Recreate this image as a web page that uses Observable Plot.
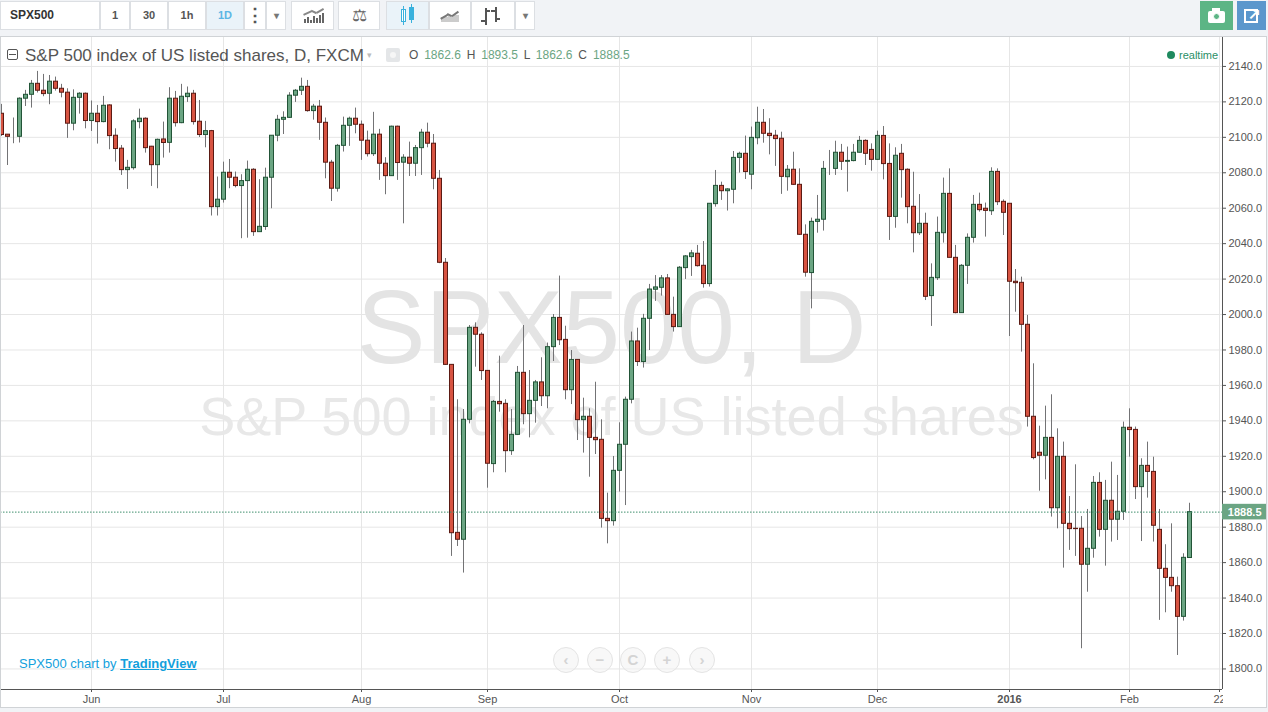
<!DOCTYPE html>
<html>
<head>
<meta charset="utf-8">
<script src="https://cdn.jsdelivr.net/npm/d3@7"></script>
<script src="https://cdn.jsdelivr.net/npm/@observablehq/plot@0.6"></script>
<style>
html,body{margin:0;padding:0;background:#f1f3f6;overflow:hidden}
#root{position:relative;width:1268px;height:712px;font-family:"Liberation Sans",Arial,sans-serif;overflow:hidden}
#bar{height:36px}
#root svg{display:block}
.a{position:absolute;white-space:nowrap}
.cell{position:absolute;top:1px;height:29px;background:#fff;border:1px solid #dcdfe3;box-sizing:border-box;text-align:center;font-size:11px;font-weight:bold;line-height:27px;color:#555}
</style>
</head>
<body>
<div id="root"><div id="bar"></div></div>
<script>
const open = [
2113.3,2101.5,2100.3,2100.3,2121.8,2124,2130.2,2126.3,2124.6,2131.4,
2127.4,2125.2,2107.7,2122.3,2124.6,2109.2,2113.3,2108.6,2118,2100.9,
2093.6,2081.5,2082.6,2108.6,2110.5,2094.7,2084.3,2098.8,2096.9,2121.8,
2108,2122.7,2124.6,2108.8,2101.3,2103.5,2060.6,2064.8,2080,2077.2,
2072.5,2075.3,2081.7,2046.5,2049.4,2077.2,2100.9,2109.9,2111,2123.5,
2126.3,2128.5,2114.8,2117.3,2108.2,2085.7,2071,2095.2,2106.5,2110.5,
2107.1,2098.1,2090.5,2101.5,2085.1,2078.1,2106,2085.7,2088.5,2085.1,
2093.9,2102.6,2096.4,2076.6,2029.2,1971.6,1876.8,1872.9,1940.6,1992.5,
1988.6,1968.2,1915.6,1950.7,1949.6,1922.9,1932.1,1967.1,1943.8,1951.3,
1961.7,1953.9,1981.6,1998.1,1985.7,1957.3,1974.4,1940.4,1942.3,1930.4,
1929.3,1884.7,1883.4,1911.8,1926.5,1951.9,1984.8,1973.2,1997.6,2014,
2015.1,2020.4,1999.8,1992.9,2026.2,2032.4,2034.3,2027.5,2017.2,2062.3,
2072.6,2069.6,2070.4,2088.4,2090.7,2078.9,2099.5,2108.2,2102,2100.9,
2099.2,2077.5,2081.7,2073.2,2045,2023.4,2052.3,2053.5,2082.2,2082.2,
2091.3,2086.2,2086.6,2091.3,2098,2092.9,2087.3,2100.8,2085,2055.1,
2090.7,2081.7,2060.8,2045.9,2051.2,2010.4,2020.5,2045.9,2068.1,2032,
2000.8,2027.5,2043.3,2061.9,2059.7,2058.3,2080.5,2063.6,2062.5,2018.5,
2017.9,1994.2,1942.3,1922,1920.3,1930.4,1890.7,1919.7,1881.9,1879.1,
1879.1,1858.8,1867.8,1905,1878.5,1894.9,1884.2,1888.7,1936.1,1934.9,
1902.6,1914.6,1911.2,1878.5,1856.5,1851.4,1846.7,1829.4,1862.6];
const high = [
2118.6,2101.6,2110.9,2122.3,2126.5,2132.1,2137.2,2135.5,2134.9,2134,
2129.9,2127.4,2126.8,2125.2,2125,2120.5,2118,2123.1,2118.4,2104.8,
2095.4,2087,2109.9,2115.9,2111,2094.9,2099,2108.6,2128,2125.9,
2129.9,2128.4,2126.5,2120.8,2109,2103.9,2077.6,2086,2087.5,2080.4,
2078.9,2086.6,2082.3,2076.1,2082.6,2100.9,2112.4,2114.4,2125.2,2127,
2133.4,2132.1,2118.6,2120.8,2110.9,2087,2096,2111.4,2111.4,2116.5,
2109.2,2103.5,2114.1,2104.5,2088.5,2106.3,2106.3,2090.2,2097.3,2095.4,
2104.5,2108,2101.6,2081.3,2031.6,1971.6,1951.9,1946.4,1993.8,1995.3,
1989.7,1968.4,1951.5,1976.5,1951.9,1946.4,1970.7,1993.8,1968.4,1962.8,
1975.6,1983.9,2000,2021.7,1993.4,1979.7,1974.6,1952.8,1946.8,1961.8,
1940.6,1899.2,1919.9,1938.9,1953.4,1990.1,1992.3,2000.1,2017,2022,
2022,2022.6,2009.8,2027.1,2033.3,2036.2,2039,2041.2,2062.5,2081.3,
2074.7,2071,2092,2091.6,2100.7,2105.8,2117,2115.7,2110.5,2103.9,
2102.9,2084.1,2091.6,2082.2,2050.6,2054.4,2067.2,2086.4,2092.6,2097.8,
2096,2094.5,2096,2100.5,2098.6,2096.3,2103.5,2106.1,2096.3,2094.1,
2096,2082.2,2080.3,2067.7,2057.2,2028.6,2055,2077,2082.2,2039,
2028.2,2045.5,2067.2,2068.5,2062.9,2082.8,2082.2,2064.7,2062.5,2025.4,
2021.1,1999.5,1972.2,1937,1948.3,1954.7,1935.5,1928,1897.3,1915.2,
1886,1890,1908.6,1910.7,1906.4,1916.7,1909.2,1939.3,1946.8,1936.5,
1918.6,1928,1919.5,1890,1870.1,1881.9,1851.8,1865,1893.5];
const low = [
2100.5,2084.1,2096.4,2096.8,2117.4,2116.5,2125,2122.9,2118.4,2126.1,
2122.3,2099.4,2103.7,2113.1,2104.8,2103.3,2096.2,2108.2,2093,2086,
2078.5,2070.6,2081.5,2104.8,2091.1,2072.3,2071,2088.3,2091.1,2105.8,
2107.7,2119.7,2106.9,2099.9,2094.1,2055.6,2055.6,2062.9,2071,2071.5,
2042.8,2043.1,2044.1,2046.5,2047.5,2059.7,2097.5,2101.6,2110.7,2119.7,
2123.6,2114.2,2109.7,2098.3,2076.6,2063.8,2069.1,2091.7,2094.9,2102,
2087,2088.9,2089.2,2075.7,2067.6,2077.9,2075.7,2051.2,2077.9,2077.9,
2078.5,2094.1,2070.4,2028.7,1971.3,1863.5,1869.1,1854.1,1938.3,1970.3,
1962.8,1902,1910.7,1944.9,1910.7,1920.5,1931.7,1937.8,1930.4,1938.7,
1948.1,1946.8,1973.5,1982.5,1951.9,1949.2,1928.9,1921.8,1908.2,1921,
1879.5,1870.6,1880.6,1899.8,1892.2,1949.6,1970.7,1969.8,1979.7,2007.4,
2010.4,1999.5,1990.1,1992.9,2019.8,2021.5,2026.8,2014.9,2015.5,2060.6,
2064.4,2058.4,2062.5,2079.8,2076.2,2070.4,2095.8,2096.7,2090.1,2083.6,
2067.8,2069.6,2072.8,2044.6,2021.1,2003.2,2045.9,2047.1,2078.5,2078.5,
2081.3,2069.1,2086.2,2091.1,2084.1,2080.9,2086.9,2076,2041.8,2048.7,
2065.7,2051.2,2034.8,2044.6,2007.9,1993.3,2019.2,2040.3,2032,2000.4,
2000.8,2017,2040.3,2057.8,2043.7,2055.9,2061.5,2044.6,1987.6,2001.3,
1978.8,1936.5,1918,1900.3,1906.7,1885.7,1879.1,1856.9,1866.9,1863.5,
1811.4,1843.3,1862.5,1874.4,1858,1871.6,1872.5,1883.8,1919.5,1895.6,
1871.9,1896.4,1871.6,1827.4,1831.7,1843.3,1807.6,1827,1862.6];
const close = [
2101.3,2100.3,2100.3,2121.8,2124,2130.2,2126.3,2124.4,2131.4,2127.4,
2125.2,2107.7,2122.3,2124.6,2109.2,2113.3,2108.6,2117.8,2100.7,2093.4,
2081.5,2082.8,2109,2110.5,2093.9,2084.3,2098.6,2096.8,2121.8,2108,
2122.9,2124.6,2108.6,2101.3,2103.5,2060.6,2064.8,2080,2077.2,2072.5,
2075.3,2081.7,2046.5,2049.5,2077.2,2100.9,2109.9,2111,2123.5,2126.3,
2128.5,2114.8,2117.3,2108.2,2085.7,2071,2095.2,2106.5,2110.5,2107.1,
2098.1,2090.5,2101.5,2085.1,2078.1,2106,2085.5,2088.5,2085.1,2093.9,
2102.6,2096.4,2076.6,2029.2,1971.6,1876.6,1872.9,1940.6,1992.5,1988.6,
1968.1,1915.8,1950.7,1949.4,1922.9,1932.1,1967.1,1943.8,1951.3,1961.7,
1953.9,1981.6,1998.1,1985.5,1957.3,1974.4,1940.4,1942.3,1930.4,1929.1,
1884.7,1883.4,1911.8,1926.5,1951.9,1984.8,1973.2,1997.6,2014.1,2015.3,
2020.4,1999.8,1992.9,2026.4,2032.8,2034.5,2027.3,2017.2,2062.5,2072.6,
2069.6,2070.6,2088.4,2090.7,2080.4,2099.7,2108.2,2102,2100.7,2099,
2077.7,2081.7,2073.2,2045,2023.6,2052.3,2053.5,2082.2,2082.2,2091.3,
2086.2,2086.7,2091.3,2098,2090.7,2087.3,2100.8,2084.9,2055.1,2089.6,
2081.5,2060.6,2045.9,2051.2,2010,2020.7,2046.1,2068.1,2032,2000.8,
2027.5,2043.3,2061.9,2058.9,2058.5,2080.5,2063.4,2057.4,2018.5,2017.7,
1994.2,1942.3,1919,1920.3,1930.4,1890.7,1919.7,1881.9,1878.9,1878.9,
1858.8,1867.8,1905,1878.5,1894.9,1884.2,1888.7,1936.1,1934.8,1902.6,
1914.6,1911.2,1880.8,1856.5,1851.4,1846.7,1829.4,1862.7,1888.5];

const lastPrice = 1888.5;
const priceTicks = [1800,1820,1840,1860,1880,1900,1920,1940,1960,1980,2000,2020,2040,2060,2080,2100,2120,2140];
const timeTicks = [15,37,60,81,103,125,146,188,203];
const timeLabels = ["Jun","Jul","Aug","Sep","Oct","Nov","Dec","Feb","22"];
const yearTick = 168, yearLabel = "2016";
const watermark = "SPX500, D", watermarkSub = "S&P 500 index of US listed shares";
const xDomain = [-1/6, 203.5], yDomain = [1788.4, 2156.9];
const up = "#6ba583", down = "#d75442", upEdge = "#225437", downEdge = "#5b1a13", wick = "#737375", axisInk = "#555";

const idx = d3.range(open.length);
const isUp = i => close[i] >= open[i];
const labelOf = d => timeLabels[timeTicks.indexOf(d)];

const chart = Plot.plot({
  width: 1268, height: 676,
  marginLeft: 0, marginRight: 46, marginTop: 0, marginBottom: 23,
  x: {domain: xDomain},
  y: {domain: yDomain},
  style: {background: "#fff", fontFamily: '"Liberation Sans",Arial,sans-serif', overflow: "hidden"},
  marks: [
    Plot.ruleY(priceTicks, {stroke: "#e6e6e6"}),
    Plot.ruleX([...timeTicks, yearTick], {stroke: "#e6e6e6"}),
    Plot.text([watermark], {frameAnchor: "middle", dy: -33, fontSize: 103, fill: "#e4e4e4"}),
    Plot.text([watermarkSub], {frameAnchor: "middle", dy: 55, fontSize: 54, fill: "#e8e8e8"}),
    Plot.ruleX(idx, {x: i => i, y1: i => low[i], y2: i => high[i], stroke: wick}),
    Plot.rect(idx, {
      x1: i => i - 1/3, x2: i => i + 1/3, y1: i => open[i], y2: i => close[i], dx: 0.5,
      fill: i => isUp(i) ? up : down, stroke: i => isUp(i) ? upEdge : downEdge, strokeWidth: 1
    }),
    Plot.ruleY([lastPrice], {stroke: "#3f8f6d", strokeDasharray: "1.5 1.5"}),
    Plot.ruleX([xDomain[1]], {stroke: axisInk}),
    Plot.ruleY([yDomain[0]], {stroke: axisInk}),
    Plot.axisY(priceTicks, {anchor: "right", label: null, tickFormat: d => d.toFixed(1), tickSize: 3, tickPadding: 3, fontSize: 11, color: axisInk, stroke: axisInk, fill: axisInk}),
    Plot.axisX(timeTicks, {anchor: "bottom", label: null, tickFormat: labelOf, tickSize: 3, tickPadding: 3, fontSize: 11, stroke: axisInk, fill: axisInk}),
    Plot.axisX([yearTick], {anchor: "bottom", label: null, tickFormat: () => yearLabel, tickSize: 3, tickPadding: 3, fontSize: 11, fontWeight: "bold", stroke: axisInk, fill: axisInk}),
    Plot.rect([lastPrice], {x1: xDomain[1], x2: 210.83, y1: d => d - 4.4, y2: d => d + 4.4, fill: up}),
    Plot.text([lastPrice], {x: 207.2, y: d => d, text: d => d.toFixed(1), fill: "#fff", fontSize: 11, fontWeight: "bold"})
  ]
});
const root = document.getElementById("root");
root.appendChild(chart);

function el(cls, css, html) {
  const d = document.createElement("div");
  d.className = cls; d.style.cssText = css; if (html) d.innerHTML = html;
  root.appendChild(d); return d;
}
function box(x, y, w, h, bg, extra) { return el("a", `left:${x}px;top:${y}px;width:${w}px;height:${h}px;background:${bg};${extra||""}`); }
function cell(x, w, txt, extra) { return el("cell", `left:${x}px;width:${w}px;${extra||""}`, txt||""); }

// clip of the last label, page edges and frame
box(1223, 690, 45, 18, "#fff");
box(0, 708, 1268, 4, "#f1f3f6");
box(1267, 36, 1, 676, "#f1f3f6");
box(0, 36, 1267, 672, "transparent", "border:1px solid #d0d3d6;box-sizing:border-box;");

// toolbar
cell(0, 100, "SPX500", "text-align:left;padding-left:9px;font-size:12px;color:#333;");
cell(100, 30, "1");
cell(130, 38, "30");
cell(168, 38, "1h");
cell(206, 38, "1D", "background:#eaf3f9;color:#5cb6e4;");
cell(244, 22, "⋮", "font-size:18px;");
cell(266, 20, "▾", "font-size:10px;color:#777;");
cell(291, 43);
cell(338, 42, "⚖", "font-size:17px;font-weight:normal;color:#666;");
cell(386, 43, "", "background:#eaf3f9;");
cell(429, 42);
cell(471, 44);
cell(515, 20, "▾", "font-size:10px;color:#777;");
// indicators icon
[[304,19,4],[307,17,6],[310,20,3],[313,16,7],[316,18,5],[319,15,8],[322,13,10]].forEach(b => box(b[0], b[1], 1.5, b[2], "#666"));
box(303, 12, 9, 1.5, "#888", "transform:rotate(-25deg);");
box(311, 11, 6, 1.5, "#888", "transform:rotate(25deg);");
box(316, 10, 8, 1.5, "#888", "transform:rotate(-30deg);");
// candle icon
box(401, 9, 5, 13, "#fff", "border:1px solid #39b1dd;box-sizing:border-box;");
box(409, 7, 5, 13, "#39b1dd");
box(403, 6, 1, 19, "#39b1dd"); box(411, 4, 1, 19, "#39b1dd");
// area icon
box(441, 17, 7, 5, "#ccc"); box(448, 15, 11, 7, "#ccc");
box(440, 16, 8, 1.5, "#777", "transform:rotate(-30deg);");
box(447, 14, 5, 1.5, "#777", "transform:rotate(25deg);");
box(451, 13, 8, 1.5, "#777", "transform:rotate(-35deg);");
// bars icon
box(485, 8, 1.5, 17, "#555"); box(481, 20, 4, 1.5, "#555"); box(486, 10, 4, 1.5, "#555");
box(495, 7, 1.5, 15, "#555"); box(491, 10, 4, 1.5, "#555"); box(496, 18, 4, 1.5, "#555");
// right buttons
box(1200, 1, 33, 29, "#5cb585");
box(1208, 11, 17, 12, "#fff", "border-radius:2px;");
box(1212, 8, 8, 4, "#fff");
box(1213, 13, 7, 7, "#5cb585", "border-radius:50%;border:1.5px solid #fff;box-sizing:border-box;");
box(1237, 1, 29, 29, "#5b97cc");
box(1244, 9, 14, 14, "transparent", "border:2px solid #fff;box-sizing:border-box;");
el("a", "left:1248px;top:5px;font-size:15px;font-weight:bold;color:#fff;line-height:18px;", "↗");

// legend line
box(7, 49, 11, 11, "transparent", "border:1px solid #555;box-sizing:border-box;border-radius:2px;");
box(9, 54, 7, 1, "#555");
el("a", "left:25px;top:46px;font-size:17px;line-height:19px;color:#555;", "S&amp;P 500 index of US listed shares, D, FXCM");
el("a", "left:367px;top:50px;font-size:9px;line-height:10px;color:#bbb;", "▾");
box(386, 48, 14, 14, "#e4e6e8", "border-radius:2px;");
box(390, 52, 6, 6, "#f6f6f6", "border-radius:50%;");
el("a", "left:409px;top:48px;font-size:12px;line-height:15px;color:#555;",
  `O <span style="color:#6ba583;margin:0 2.5px">1862.6</span> H <span style="color:#6ba583;margin:0 2.5px">1893.5</span> L <span style="color:#6ba583;margin:0 2.5px">1862.6</span> C <span style="color:#6ba583;margin-left:2.5px">1888.5</span>`);
box(1167, 51, 8, 8, "#1f8a5f", "border-radius:50%;");
el("a", "left:1179px;top:48px;font-size:11px;line-height:14px;color:#2a8f66;background:#fff;", "realtime");

// attribution
el("a", "left:19px;top:656px;font-size:13px;line-height:15px;color:#12a0dc;",
  `SPX500 chart by <span style="font-weight:bold;text-decoration:underline;">TradingView</span>`);

// zoom buttons
[[566,"‹"],[600,"−"],[633,"C"],[667,"+"],[702,"›"]].forEach(b => {
  el("a", `left:${b[0]-13}px;top:647px;width:26px;height:26px;border-radius:50%;background:rgba(244,244,244,.6);border:1px solid #e4e4e4;box-sizing:border-box;text-align:center;line-height:23px;font-size:15px;font-weight:bold;color:#d4d4d4;`, b[1]);
});
</script>
</body>
</html>
